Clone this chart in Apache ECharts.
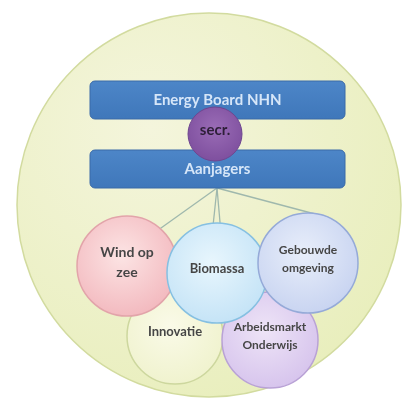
<!DOCTYPE html>
<html>
<head>
<meta charset="utf-8">
<script src="https://cdn.jsdelivr.net/npm/echarts@6/dist/echarts.min.js"></script>
<style>
  html, body { margin: 0; padding: 0; background: #fff; }
  #main { width: 416px; height: 409px; }
</style>
</head>
<body>
<div id="main"></div>
<script>
// outer circle (diagram units = pixels of the 416x409 picture)
var outerCenter = [209, 205];
var outerRadius = 192;

// the two bars
var boxLabels = ['Energy Board NHN', 'Aanjagers'];
var boxTop = [81, 150];
var boxBottom = [119, 188];
var boxLeft = 90;
var boxRight = 345;

// secretariat bubble
var secrLabel = 'secr.';
var secrCenter = [215, 134];
var secrRadius = 27;

// theme bubbles, drawn back to front
var nodeNames = ['Innovatie', 'Arbeidsmarkt\nOnderwijs', 'Wind op\nzee', 'Biomassa', 'Gebouwde\nomgeving'];
var nodeX = [175, 270, 127, 217, 308];
var nodeY = [336, 340, 266, 273, 263];
var nodeR = [48, 48, 50, 50, 50];
var nodeFill = [['#fafae8', '#eff2cc'], ['#eee4f7', '#d5c2ec'], ['#fce4e4', '#f2b6bc'], ['#e8f6fd', '#c2e2f6'], ['#e8eefa', '#c6d2f0']];
var nodeBorder = ['#cdd79e', '#b9a2d6', '#e2a4aa', '#86c0e2', '#95aad8'];
var nodeFont = [13, 12, 14, 13, 12];

// connector lines from the bottom of "Aanjagers"
var linkFrom = [217, 188];
var linkToX = [140, 211, 222, 330];
var linkToY = [243, 245, 245, 218];

var chart = echarts.init(document.getElementById('main'));
var font = 'Lato, "Open Sans", sans-serif';

function idx(arr) { return arr.map(function (v, i) { return [i]; }); }

var option = {
  backgroundColor: '#ffffff',
  animation: false,
  grid: { left: 0, right: 0, top: 0, bottom: 0 },
  xAxis: { type: 'value', min: 0, max: 416, show: false },
  yAxis: { type: 'value', min: 0, max: 409, inverse: true, show: false },
  series: [
    {
      type: 'custom', silent: true, z: 1,
      data: [[0]],
      renderItem: function (params, api) {
        var c = api.coord(outerCenter);
        var r = api.size([outerRadius, 0])[0];
        return {
          type: 'circle',
          shape: { cx: c[0], cy: c[1], r: r },
          style: {
            fill: new echarts.graphic.RadialGradient(0.35, 0.3, 0.8, [
              { offset: 0, color: '#f4f5dc' },
              { offset: 1, color: '#e8eebb' }
            ]),
            stroke: '#d2db9f', lineWidth: 1.5
          }
        };
      }
    },
    {
      type: 'custom', silent: true, z: 2,
      data: idx(linkToX),
      renderItem: function (params, api) {
        var i = api.value(0);
        var a = api.coord(linkFrom);
        var b = api.coord([linkToX[i], linkToY[i]]);
        return {
          type: 'line',
          shape: { x1: a[0], y1: a[1], x2: b[0], y2: b[1] },
          style: { stroke: '#9fb8ad', lineWidth: 1.3 }
        };
      }
    },
    {
      type: 'custom', silent: true, z: 3,
      data: idx(boxLabels),
      renderItem: function (params, api) {
        var i = api.value(0);
        var p1 = api.coord([boxLeft, boxTop[i]]);
        var p2 = api.coord([boxRight, boxBottom[i]]);
        return {
          type: 'group',
          children: [
            {
              type: 'rect',
              shape: { x: p1[0], y: p1[1], width: p2[0] - p1[0], height: p2[1] - p1[1], r: 5 },
              style: {
                fill: new echarts.graphic.LinearGradient(0, 0, 0, 1, [
                  { offset: 0, color: '#4d86c8' },
                  { offset: 1, color: '#3f77ba' }
                ]),
                stroke: '#3a6aa8', lineWidth: 1
              }
            },
            {
              type: 'text',
              style: {
                x: (p1[0] + p2[0]) / 2, y: (p1[1] + p2[1]) / 2,
                text: boxLabels[i], align: 'center', verticalAlign: 'middle',
                fill: '#d6e6f8', font: 'bold ' + (i === 0 ? '15px ' : '15px ') + font
              }
            }
          ]
        };
      }
    },
    {
      type: 'custom', silent: true, z: 4,
      data: [[0]],
      renderItem: function (params, api) {
        var c = api.coord(secrCenter);
        var r = api.size([secrRadius, 0])[0];
        return {
          type: 'group',
          children: [
            {
              type: 'circle',
              shape: { cx: c[0], cy: c[1], r: r },
              style: {
                fill: new echarts.graphic.RadialGradient(0.5, 0.4, 0.6, [
                  { offset: 0, color: '#9a6cb6' },
                  { offset: 1, color: '#7e4f9e' }
                ]),
                stroke: '#6e4690', lineWidth: 1
              }
            },
            {
              type: 'text',
              style: {
                x: c[0], y: c[1] - 4, text: secrLabel,
                align: 'center', verticalAlign: 'middle',
                fill: '#2e1f38', font: 'bold 15px ' + font
              }
            }
          ]
        };
      }
    },
    {
      type: 'custom', silent: true, z: 5,
      data: idx(nodeNames),
      renderItem: function (params, api) {
        var i = api.value(0);
        var c = api.coord([nodeX[i], nodeY[i]]);
        var r = api.size([nodeR[i], 0])[0];
        return {
          type: 'group',
          children: [
            {
              type: 'circle',
              shape: { cx: c[0], cy: c[1], r: r },
              style: {
                fill: new echarts.graphic.RadialGradient(0.45, 0.4, 0.65, [
                  { offset: 0, color: nodeFill[i][0] },
                  { offset: 1, color: nodeFill[i][1] }
                ]),
                stroke: nodeBorder[i], lineWidth: 1.5
              }
            },
            {
              type: 'text',
              style: {
                x: c[0], y: c[1] - 4, text: nodeNames[i],
                align: 'center', verticalAlign: 'middle',
                fill: '#464646', font: 'bold ' + nodeFont[i] + 'px ' + font,
                lineHeight: nodeFont[i] + 6
              }
            }
          ]
        };
      }
    }
  ]
};

chart.setOption(option);
</script>
</body>
</html>
